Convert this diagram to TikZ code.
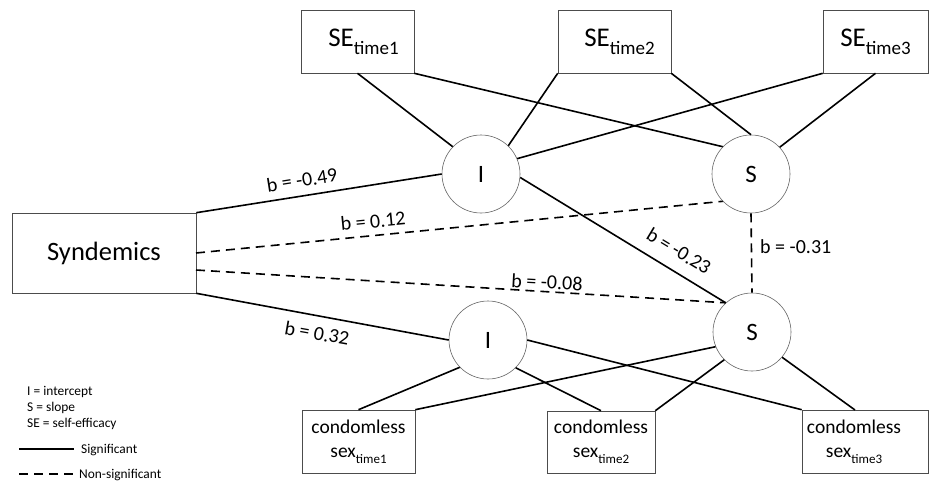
\documentclass[tikz,border=0pt]{standalone}
\usepackage{fontspec}
\setmainfont{Carlito}
\usetikzlibrary{calc}
\newcommand{\subt}[2][13]{\raisebox{-0.3em}{\fontsize{#1}{#1}\selectfont #2}}
\begin{document}
\begin{tikzpicture}[x=1pt,y=-1pt,
  box/.style={draw=black!70,line width=0.6pt,rectangle,inner sep=0pt,align=center},
  circ/.style={draw=black!60,line width=0.6pt,circle,minimum size=78pt,inner sep=0pt,font=\fontsize{25}{25}\selectfont},
  conn/.style={line width=1.6pt,black},
  nsig/.style={conn,dash pattern=on 9pt off 6pt},
  lab/.style={font=\fontsize{20}{20}\selectfont,inner sep=0pt},
  leg/.style={font=\fontsize{13.4}{13.4}\selectfont,inner sep=0pt,anchor=base west},
  big/.style={font=\fontsize{27}{27}\selectfont},
  cs/.style={font=\fontsize{19.5}{24}\selectfont}]
\useasboundingbox (0,0) rectangle (929,483);
\fill[white] (0,0) rectangle (929,483);

% boxes
\node[box,big,minimum width=113,minimum height=63] (se1) at (357.5,41.5) {\hspace*{12pt}SE\subt[19]{time1}};
\node[box,big,minimum width=113,minimum height=63] (se2) at (614.5,41.5) {\hspace*{10pt}SE\subt[19]{time2}};
\node[box,big,minimum width=105,minimum height=63] (se3) at (875.5,41.5) {SE\subt[19]{time3}};
\node[box,font=\fontsize{26.5}{26.5}\selectfont,minimum width=184,minimum height=80] (syn) at (104,253) {Syndemics};
\node[box,cs,minimum width=113,minimum height=63] (cs1) at (358.5,441.5) {condomless\\sex\subt{time1}};
\node[box,cs,minimum width=108,minimum height=62] (cs2) at (601,442) {condomless\\sex\subt{time2}};
\node[box,minimum width=126,minimum height=63] (cs3) at (865,441.5) {};
\node[cs,inner sep=0pt,align=center] (cs3t) at (854,441.5) {condomless\\sex\subt{time3}};

% circles
\node[circ] (I1) at (481,174) {I};
\node[circ] (S1) at (751,174) {S};
\node[circ] (I2) at (488,340) {I};
\node[circ] (S2) at (752,332) {S};

% top connectors
\draw[conn] (se1.south) -- (I1.136);
\draw[conn] (se1.south east) -- (S1.136);
\draw[conn] (se2.south west) -- (I1.46);
\draw[conn] (se2.south east) -- (S1.90);
\draw[conn] (se3.south west) -- (I1.23);
\draw[conn] (se3.south) -- (S1.43);

% syndemics connectors
\coordinate (synA) at (196,253);
\coordinate (synB) at (196,270);
\draw[conn] (syn.north east) -- (I1.180);
\draw[nsig] (synA) -- (S1.224);
\draw[nsig] (synB) -- (S2.132);
\draw[conn] (syn.south east) -- (I2.180);
\draw[conn] (I1.-5) -- (S2.132);
\draw[nsig] (S1.270) -- (S2.90);

% bottom connectors
\coordinate (cs3n) at (855,410);
\draw[conn] (I2.224) -- (cs1.north);
\draw[conn] (I2.-45) -- (cs2.north);
\draw[conn] (I2.0) -- (cs3.north west);
\draw[conn] (S2.202) -- (cs1.north east);
\draw[conn] (S2.225) -- (cs2.north east);
\draw[conn] (S2.-40) -- (cs3n);

% labels
\node[lab,rotate=9] (l1) at (302,180) {b = -0.49};
\node[lab,rotate=5.5] (l2) at (373,221) {b = 0.12};
\node[lab,rotate=-3] (l3) at (547,282) {b = -0.08};
\node[lab,rotate=-10] (l4) at (317,333) {b = 0.32};
\node[lab,rotate=-31] (l5) at (679,251) {b = -0.23};
\node[lab,anchor=west] (l6) at (760,247) {b = -0.31};

% legend
\node[leg] (g1) at (27,395) {I = intercept};
\node[leg] (g2) at (27,411) {S = slope};
\node[leg] (g3) at (27,427) {SE = self-efficacy};
\coordinate (ga) at (19,449);
\coordinate (gb) at (74,449);
\coordinate (gc) at (19,474);
\coordinate (gd) at (78,474);
\draw[conn] (ga) -- (gb);
\draw[line width=1.6pt,dash pattern=on 9pt off 6pt] (gc) -- (gd);
\node[leg] (g4) at (81,453) {Significant};
\node[leg] (g5) at (79,478) {Non-significant};
\end{tikzpicture}
\end{document}
